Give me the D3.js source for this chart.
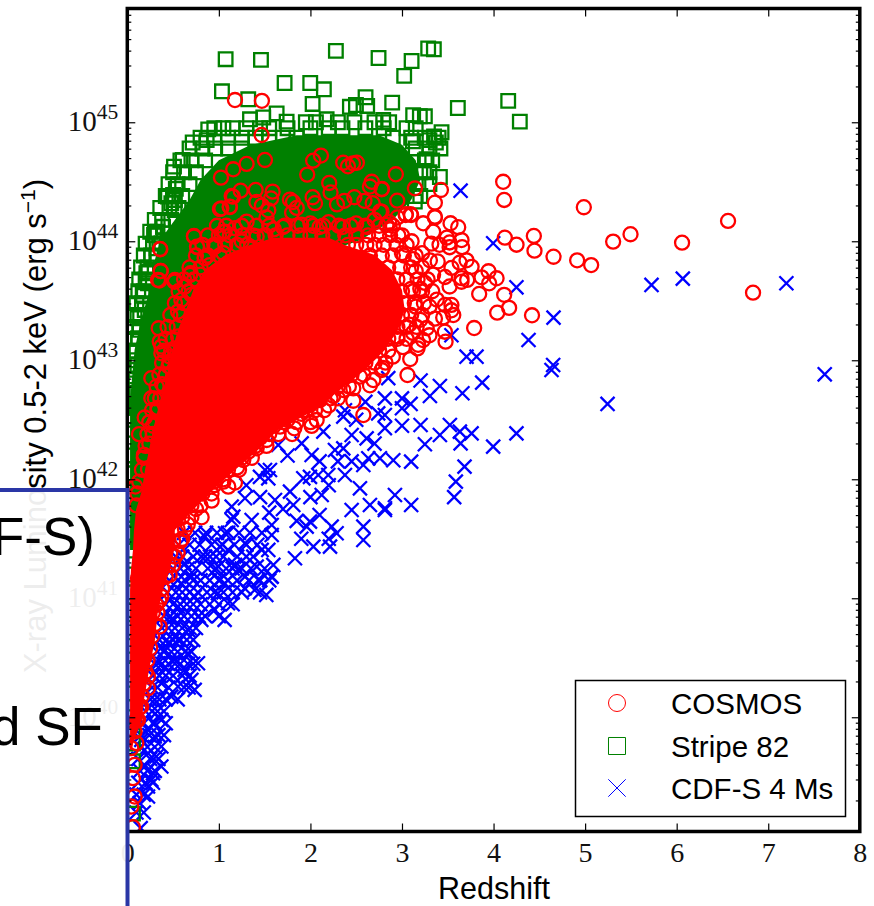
<!DOCTYPE html>
<html>
<head>
<meta charset="utf-8">
<script src="https://cdn.jsdelivr.net/npm/d3@7"></script>
<style>
  html, body { margin: 0; padding: 0; background: #fff; overflow: hidden; }
  svg { display: block; }
  text { font-family: "Liberation Sans", Arial, sans-serif; fill: #000; }
  .tick-label, .tick-label tspan { font-family: "Liberation Serif", serif; fill: #111; }
</style>
</head>
<body>
<div id="chart"></div>
<script>
// all points are [redshift, log10 luminosity]
var xTicks = [0, 1, 2, 3, 4, 5, 6, 7, 8];
var yExponents = [40, 41, 42, 43, 44, 45];
var legendLabels = ["COSMOS", "Stripe 82", "CDF-S 4 Ms"];
var panelLines = ["F-S)", "d SF"];

var cosmos = [
[4.105,44.5],[4.116,44.347],[4.986,44.286],[4.123,44.03],[4.251,43.971],[4.44,44.045],[4.447,43.921],[4.655,43.87],[4.913,43.84],[5.066,43.8],[5.306,43.997],[5.496,44.059],[6.059,43.988],[6.561,44.171],[6.834,43.568],
[4.42,43.378],[3.788,43.271],[4.04,43.4],[4.17,43.44],[4.116,43.55],[3.843,43.557],[3.945,43.748],[4.033,43.689],[3.952,43.647],[3.869,43.697],[3.712,43.675],[3.65,43.66],
[3.425,44.431],[3.141,44.445],[3.359,44.324],[2.948,44.341],[2.933,44.563],[2.777,44.437],[3.043,44.227],[3.094,44.227],[3.359,44.207],[3.232,44.151],[3.53,44.151],[3.614,44.118],
[1.176,45.187],[1.47,45.18],[1.467,44.893],[1.503,44.683],[1.303,44.65],[1.157,44.605],[1.023,44.535],[2.115,44.72],[2.03,44.677],[1.965,44.56],[2.358,44.66],[2.41,44.63],[2.465,44.655],[2.507,44.66],
[.357,43.935],[.365,43.75],[.35,43.67],[.52,43.675],[.685,43.717],[.728,44.04],[.764,43.95],[.957,43.955],[.848,43.86],[1.045,44.078],[1.176,44.11],[1.303,44.165],[1.413,44.04],[1.012,44.27],[1.121,44.288],[1.14,44.38],[1.238,44.425],[1.402,44.431],[1.587,44.417],
[1.57,44.36],[1.41,44.33],[1.47,44.3],[1.54,44.26],[1.52,44.2],[1.776,44.35],[1.81,44.33],[1.85,44.28],[1.8,44.24],[2.024,44.37],[2.05,44.32],[2.205,44.49],[2.22,44.41],[2.29,44.31],[2.37,44.34],[2.48,44.37],[2.59,44.34],[2.68,44.32],[2.67,44.5],[2.65,44.46],[2.78,44.44],[2.76,44.25],[3.04,44.22],[3.1,44.22],
[1.7,44.12],[1.6,44.1],[1.9,44.14],[2.0,44.15],[2.1,44.12],[2.2,44.16],[2.35,44.12],[2.5,44.15],[2.62,44.12],[2.7,44.18],[2.86,44.16],[2.95,44.2],[1.25,44.0],[1.5,44.05],[1.35,43.95],
[2.777,44.249],[2.83,44.137],[2.87,44.1],[2.96,44.05],[3.105,44.0],[3.0,43.9],[3.34,44.08],[3.36,44.2],[3.32,43.98],[3.49,44.03],[3.52,43.99],[3.52,43.95],[3.41,43.97],[3.65,44.01],[3.657,43.95],[3.305,43.84],[3.39,43.83],[3.54,43.776],[3.63,43.82],[3.705,43.84],[3.76,43.785],[3.65,43.69],[3.52,43.62],[3.47,43.7],[3.34,43.72],[3.38,43.51],[3.3,43.45],[3.47,43.465],[3.54,43.42],[3.45,43.36],[3.36,43.35],[3.2,43.34],[3.27,43.27],[3.12,43.23],[3.23,43.17],[3.3,43.21],[3.17,43.1],[3.01,43.11],[2.9,43.03],[3.06,42.876],[2.79,42.935],[3.09,43.01],[3.476,43.156],[3.468,43.24],[3.176,43.13],[3.56,43.38],[3.54,43.465],[3.2,43.6],[3.15,43.75],[3.22,43.9],[3.1,43.6],[3.15,43.45],[3.08,43.3],[2.95,43.2],[3.12,43.85],[3.25,43.65],
[2.578,42.54],[2.468,42.66],[2.65,42.79],[2.468,42.764],[2.359,42.75],[2.068,42.498],[2.013,42.448],[1.824,42.428],[2.104,42.666],[1.995,42.624],[1.668,42.442],[1.522,42.33],[1.413,42.26],[1.176,41.972],[1.103,41.938],[.921,41.82],[.812,41.68],[1.267,42.162],[1.322,42.232],[2.541,42.862],[2.687,42.834],[2.778,42.918],[2.25,42.7],[2.2,42.62],[1.9,42.55],[1.75,42.5],[1.6,42.45],[1.45,42.35],[1.2,42.1],[1.05,42.0],[.95,41.95],[.75,41.75],[.66,41.62],[.6,41.5],[.52,41.35],
[.099,39.782],[.044,39.74],[.08,39.6],[.062,39.488],[.08,39.334],[.044,39.25],[.062,39.076],[.117,39.978],[.226,40.342],[.226,40.244],[.354,40.762],[.372,41.014],[.317,40.944],[.463,41.196],[.117,41.168],[.19,40.51],[.153,40.09],
[.361,43.933],[.364,43.75],[.335,43.675],[.517,43.66],[.692,43.731],[.728,44.045],[.761,43.955],[.961,43.96],[.845,43.857],[1.027,44.277],[1.118,44.291],[1.154,44.375],[1.063,44.081],[.554,43.409],[.343,43.269],[.354,43.157],[.372,43.115],[.372,43.059],[.463,43.031],[.517,43.1],[.262,42.849],[.262,42.681],[.19,42.519],[.128,42.379],[.182,42.205],[.226,42.085],[.088,41.939],[.626,43.619],[.59,43.507],[.554,43.2],[.45,42.95],[.38,42.8],[.33,42.6],[.28,42.45],[.24,42.3],[.7,43.55],[.8,43.72],[.9,43.8],[1.05,43.9]
];
// fringe of the red cloud, listed as [log L, [z, z, ...]]
var cosmosFringe = [
[44.13,[.98,1.08,1.25,1.41,1.55,1.72,1.86,2.03,2.14,2.31,2.44,2.6,2.75,2.9]],
[44.05,[.88,1.0,1.12,1.26,1.37,1.51,1.62,1.75,1.89,2.0,2.13,2.25,2.38,2.5,2.63,2.75,2.87,3.0]],
[43.97,[.82,.95,1.07,1.2,1.31,2.41,2.5,2.61,2.7,2.8,2.94,3.05]],
[43.88,[.75,.88,1.01,2.65,2.78,2.9,3.02,3.15]],
[43.78,[.68,.8,2.85,2.98,3.1,3.22]],
[43.68,[.62,.73,2.95,3.05,3.17,3.28]],
[43.58,[.56,.67,3.0,3.12,3.22,3.33]],
[43.48,[.52,.62,3.02,3.14,3.24]],
[43.38,[.47,.58,3.0,3.1,3.22]],
[43.28,[.44,.54,2.95,3.05,3.16]],
[43.18,[.42,.5,2.85,2.95,3.05]],
[43.08,[.4,.48,2.75,2.85]],
[42.98,[.38,.46,2.6,2.7,2.82]],
[42.88,[.35,.42,2.45,2.58]],
[42.78,[.32,.4,2.3,2.42]],
[42.68,[.3,.36,2.1,2.22,2.3]],
[42.58,[.27,.33,1.95,2.05,2.15]],
[42.48,[.24,.3,1.7,1.85,2.0]],
[42.38,[.22,.28,1.55,1.65,1.8]],
[42.28,[.2,1.4,1.52]],
[42.18,[.18,1.25,1.36]],
[42.08,[.16,1.1,1.22]],
[41.98,[.13,.95,1.05]],
[41.88,[.11,.82,.92]],
[41.78,[.1,.7,.8]],
[41.68,[.6,.7]],
[41.58,[.55,.63]],
[41.48,[.5,.58]],
[41.38,[.47,.55]],
[41.28,[.45,.5]],
[41.18,[.42]],
[41.08,[.38]],
[40.98,[.35]],
[40.88,[.28,.33]],
[40.78,[.3]],
[40.68,[.27]],
[40.58,[.25]],
[40.48,[.22]],
[40.38,[.2]],
[40.28,[.18]],
[40.18,[.16]],
[40.08,[.13]],
[39.98,[.1]],
[39.88,[.08]]
];

var stripe = [
[1.074,45.53],[1.46,45.524],[2.278,45.6],[2.744,45.54],[3.105,45.515],[3.024,45.39],[3.286,45.62],[3.348,45.613],[1.718,45.33],[1.998,45.33],[2.147,45.277],[1.034,45.26],[1.321,45.193],[2.024,45.154],[2.602,45.21],[2.893,45.165],[3.61,45.12],[4.16,45.18],[4.287,45.005],[2.497,45.145],[2.431,45.13],[2.62,45.137],[1.34,45.025],[1.485,45.04],[1.631,45.075],[1.74,45.005],[2.177,45.025],[3.122,45.06],[3.195,45.05],[3.25,45.05],[2.795,45.02],
[.884,44.94],[.867,44.85],[.714,44.83],[.51,44.627],[.605,44.683],[3.432,44.916],[3.35,44.88],[3.3,44.85],[3.37,44.83],[3.12,44.84],[3.268,44.69],[3.24,44.59],[3.414,44.54],[3.14,44.333],[2.92,44.405],[.52,44.347],[.5,44.39],[.53,44.44],[.39,44.12],[.313,44.05],[.23,43.745],[.32,43.94],[.168,43.55],
[.481,44.319],[.39,44.123],[.292,44.053],[.317,43.871],[.208,43.731],[.172,43.541],[.11,43.353],[.117,43.185],[.088,43.073],[.073,42.919],[.062,42.751],[.062,42.611],[.05,42.415],[.444,44.375],[.517,44.263],[.372,43.983],[.262,43.871],[.226,43.647],[.19,43.423],[.135,43.255],[.099,43.0],[.08,42.835],[.062,42.5],[.05,42.2],[.06,42.05],[.05,41.9],[.06,41.7],[.07,41.55],[.05,41.4],[.06,41.2],[.05,41.05],[.05,40.9],[.05,40.75],[.05,40.6],[.06,40.4],[.05,40.2],[.05,40.0],[.062,39.89],[.062,39.78],[.062,39.63],[.062,39.19]
];
var stripeFringe = [
[45.0,[1.95,2.06,2.3,2.48,2.7,2.86]],
[44.95,[.95,1.05,1.15,1.3,1.45,1.55,1.75,2.0,2.2,2.35,2.6,2.8,3.05,3.15]],
[44.87,[.8,.95,1.1,1.25,1.4,1.55,1.7,1.85,2.9,3.1,3.25,3.4]],
[44.78,[.68,.82,.96,1.1,1.25,3.15,3.3,3.42]],
[44.68,[.58,.7,.85,3.25,3.33]],
[44.58,[.5,.62,.75,3.2,3.3]],
[44.48,[.45,.55,.68,3.18,3.3]],
[44.38,[.42,.5,.6,3.15,3.2]],
[44.28,[.36,.46,.56]],
[44.18,[.3,.38,.48]],
[44.08,[.25,.33]],
[43.98,[.2,.28]],
[43.88,[.18,.26]],
[43.78,[.15,.22]],
[43.68,[.13,.2]],
[43.58,[.12,.18]],
[43.48,[.1,.16]],
[43.38,[.08,.14]],
[43.28,[.07,.13]],
[43.18,[.06,.12]],
[43.08,[.05,.1]],
[42.96,[.05,.11]],
[42.84,[.04,.09]],
[42.72,[.05,.1]],
[42.6,[.04,.1]]
];

var cdfs = [
[3.64,44.425],[3.996,43.983],[4.25,43.613],[5.725,43.633],[6.067,43.686],[7.198,43.647],[7.617,42.882],[4.655,43.358],[4.382,43.17],[4.651,42.96],[4.633,42.918],[5.245,42.633],[4.25,42.386],[3.996,42.274],[3.876,42.812],[3.66,42.723],[3.414,42.784],[3.305,42.7],[3.203,42.83],[3.705,43.03],[3.814,43.03],[3.0,42.68],[3.094,42.633],[3.0,42.597],[2.813,42.68],[2.813,42.54],[2.813,42.43],[3.0,42.45],[3.203,42.456],[3.523,42.456],[3.414,42.372],[3.632,42.4],[3.76,42.386],[3.64,42.302],[3.25,42.294],[3.683,42.106],[3.588,41.98],[3.57,41.85],[3.1,42.148],[2.905,42.16],[2.923,41.868],[3.1,41.784],[2.813,41.742],[2.759,42.176],[3.54,43.21],
[2.74,42.554],[2.359,42.526],[2.377,42.58],[2.45,42.372],[2.614,42.344],[2.268,42.246],[2.359,42.26],[2.632,42.176],[2.578,42.12],[2.013,42.204],[1.904,42.302],[1.649,42.288],[2.141,42.4],[1.504,42.078],[1.558,42.078],[1.54,42.008],[1.449,42.02],[1.922,42.008],[1.995,42.02],[2.086,42.036],[2.195,42.036],[2.377,42.036],[2.541,41.924],[2.123,41.868],[2.65,41.784],[2.814,41.756],[2.45,41.742],[1.777,41.896],[1.613,41.826],[1.285,41.84],[1.14,41.77],[1.14,41.658],[1.358,41.658],[1.813,41.784],[1.995,41.644],[1.959,41.602],[2.232,41.602],[2.286,41.546],[2.578,41.602],[2.578,41.49],[2.032,41.434],[2.214,41.434],[1.831,41.336],[1.577,41.616],[1.577,41.532],[1.467,41.406],[1.285,41.462],[1.012,41.434],[.994,41.266],[1.176,41.28],[1.413,41.266],[1.595,41.28],[1.577,41.182],[1.285,41.182],[1.012,41.154],[1.54,41.406],[1.376,41.35],[.903,41.35],[1.067,41.546],[1.158,41.686],[.849,41.518],
[1.518,41.028],[1.39,41.07],[1.43,41.154],[1.573,41.182],[1.282,41.084],[1.209,41.238],[1.1,41.406],[.954,41.238],[1.063,41.126],[.99,41.042],[1.1,40.958],[.954,40.902],[1.063,40.818],[.808,40.818],[.736,41.014],[.7,41.182],[.626,41.294],[.808,41.35],[.59,41.126],[.554,40.93],[.481,40.818],[.663,40.734],[.772,40.454],[.7,40.314],[.736,40.23],[.626,40.398],[.517,40.482],[.408,40.566],[.554,40.65],[.444,40.622],[.336,40.454],[.372,40.286],[.481,40.174],[.299,40.146],[.554,40.258],[.408,40.412],[.663,40.538],
[.372,39.978],[.281,39.95],[.372,39.754],[.299,39.838],[.226,39.698],[.372,39.586],[.281,39.53],[.226,39.418],[.226,39.334],[.153,39.81],[.19,39.586],[.317,39.67],[.226,39.894],[.336,40.006],[.262,39.474],[.135,39.278],[.146,39.068],
[1.3,41.95],[1.45,41.85],[1.55,41.72],[1.7,41.75],[1.85,41.65],[2.1,41.7],[2.2,41.5],[1.9,41.5],[2.0,41.85],[2.2,41.95],[2.3,42.15],[2.1,42.15],[1.75,42.2],[2.45,42.15],[2.7,42.3],[2.5,42.5],[2.6,42.65],[2.85,42.85]
];
var cdfsCluster = [
[41.55,[.62,.74,.86,.98,1.1,1.22,1.34,1.47]],
[41.45,[.56,.68,.79,.92,1.04,1.17,1.3,1.42]],
[41.35,[.53,.6,.72,.85,.97,1.05,1.2,1.3]],
[41.25,[.5,.58,.66,.75,.88,.97,1.08,1.15,1.25,1.35,1.5]],
[41.15,[.46,.55,.63,.72,.8,.9,1.0,1.1,1.2,1.33,1.45,1.55]],
[41.05,[.44,.53,.6,.68,.77,.87,.95,1.05,1.15,1.25,1.45]],
[40.95,[.42,.5,.58,.65,.72,.8,.9,1.0,1.15]],
[40.85,[.4,.47,.55,.62,.7,.78,.85,1.0]],
[40.75,[.38,.45,.52,.6,.68,.75]],
[40.65,[.35,.43,.5,.58,.65,.72]],
[40.55,[.33,.4,.48,.55,.63,.7]],
[40.45,[.3,.38,.45,.52,.58,.66,.72]],
[40.35,[.28,.35,.42,.5,.6,.68]],
[40.25,[.27,.33,.45,.62,.67]],
[40.15,[.25,.35,.42,.55]],
[40.05,[.2,.27,.33,.4]],
[39.95,[.18,.3,.42]],
[39.85,[.15,.24,.34,.4]],
[39.75,[.14,.22,.3]],
[39.65,[.12,.25,.34]],
[39.55,[.14,.22,.3]],
[39.45,[.12,.2,.28]],
[39.35,[.1,.18]],
[39.2,[.1,.18]]
];

// where the symbols pile up into solid colour they can't be told apart,
// so these are [log L, z left, z right] edges of the solid regions
var cosmosCore = [
[44.03,1.6,2.2],[43.969,1.34,2.377],[43.885,1.07,2.704],[43.759,.85,2.89],[43.591,.72,3.0],[43.423,.64,3.03],[43.255,.553,2.955],[43.087,.49,2.813],[42.919,.445,2.595],[42.751,.39,2.322],[42.583,.335,2.05],[42.414,.28,1.645],[42.246,.237,1.427],[42.078,.193,1.176],[41.91,.16,.936],[41.742,.095,.717],[41.574,.073,.52],[41.406,.062,.51],[41.238,.04,.466],[41.07,.03,.39],[40.901,.03,.335],[40.65,.03,.302],[40.398,.03,.237],[40.146,.03,.182],[39.97,.03,.16],[39.81,.03,.073],[39.726,.03,.05]
];
var stripeCore = [
[44.89,1.85,2.75],[44.81,1.35,3.0],[44.68,1.0,3.15],[44.515,.8,3.2],[44.347,.68,3.1],[44.18,.52,2.9],[44.01,.36,2.55],[43.84,.3,1.9],[43.6,.25,1.2],[43.34,.15,.8],[43.09,.08,.575],[42.667,.03,.412],[42.246,.03,.302],[41.826,.03,.193],[41.406,.03,.084]
];

function expandRows(rows) {
    return d3.merge(rows.map(function(r) {
        return r[1].map(function(z) { return [z, r[0]]; });
    }));
}

var width = 874;
var height = 906;
var plot = { left: 127.3, right: 859.8, top: 8.5, bottom: 831.5 };

var svg = d3.select("#chart")
    .append("svg")
    .attr("width", width)
    .attr("height", height);

var xScale = d3.scaleLinear().domain([0, 8]).range([plot.left, plot.right]);
var yScale = d3.scaleLog()
    .domain([Math.pow(10, 39.04), Math.pow(10, 45.956)])
    .range([plot.bottom, plot.top]);

function yPos(logL) { return yScale(Math.pow(10, logL)); }

svg.append("clipPath").attr("id", "plot-clip")
    .append("rect")
    .attr("x", plot.left)
    .attr("y", plot.top)
    .attr("width", plot.right - plot.left)
    .attr("height", plot.bottom - plot.top);

var marks = svg.append("g").attr("clip-path", "url(#plot-clip)");

function drawSymbols(data, type, size, color) {
    marks.append("g").selectAll("path")
        .data(data)
        .enter()
        .append("path")
        .attr("d", d3.symbol().type(type).size(size))
        .attr("transform", function(d) {
            return "translate(" + xScale(d[0]) + "," + yPos(d[1]) + ")";
        })
        .attr("fill", "none")
        .attr("stroke", color)
        .attr("stroke-width", 2.3);
}

function drawCore(data, color) {
    var area = d3.area()
        .y(function(d) { return yPos(d[0]); })
        .x0(function(d) { return xScale(d[1]); })
        .x1(function(d) { return xScale(d[2]); });
    marks.append("path").attr("d", area(data)).attr("fill", color);
}

// same order as the picture: crosses at the bottom, circles on top
drawSymbols(cdfs.concat(expandRows(cdfsCluster)), d3.symbolTimes, 130, "#0000ff");
drawCore(stripeCore, "#008000");
drawSymbols(stripe.concat(expandRows(stripeFringe)), d3.symbolSquare, 185, "#008000");
drawCore(cosmosCore, "#ff0000");
drawSymbols(cosmos.concat(expandRows(cosmosFringe)), d3.symbolCircle, 155, "#ff0000");

// ticks
var yMinor = [];
d3.range(39, 46).forEach(function(e) {
    d3.range(2, 10).forEach(function(m) {
        var v = m * Math.pow(10, e);
        if (v > yScale.domain()[0] && v < yScale.domain()[1]) yMinor.push(v);
    });
});
var yMajor = yExponents.map(function(e) { return Math.pow(10, e); });

function drawAxis(axis, tx, ty) {
    var g = svg.append("g")
        .attr("transform", "translate(" + tx + "," + ty + ")")
        .call(axis.tickFormat(""));
    g.select(".domain").remove();
    g.selectAll("line").attr("stroke", "#000").attr("stroke-width", 1.2);
    return g;
}

var bottomAxis = drawAxis(d3.axisBottom(xScale).tickValues(xTicks).tickSize(-8), 0, plot.bottom);
drawAxis(d3.axisTop(xScale).tickValues(xTicks).tickSize(-8), 0, plot.top);
var leftAxis = drawAxis(d3.axisLeft(yScale).tickValues(yMajor).tickSize(-8), plot.left, 0);
drawAxis(d3.axisRight(yScale).tickValues(yMajor).tickSize(-8), plot.right, 0);
drawAxis(d3.axisLeft(yScale).tickValues(yMinor).tickSize(-4), plot.left, 0);
drawAxis(d3.axisRight(yScale).tickValues(yMinor).tickSize(-4), plot.right, 0);

bottomAxis.selectAll(".tick").append("text")
    .attr("class", "tick-label")
    .attr("y", 30)
    .attr("text-anchor", "middle")
    .attr("font-size", 28)
    .attr("fill", "#111")
    .text(function(d) { return d; });

var yLabels = leftAxis.selectAll(".tick").append("text")
    .attr("class", "tick-label")
    .attr("x", -9)
    .attr("y", 8)
    .attr("text-anchor", "end")
    .attr("font-size", 29)
    .attr("fill", "#111");
yLabels.append("tspan").text("10");
yLabels.append("tspan")
    .attr("dy", -12)
    .attr("font-size", 21.5)
    .text(function(d) { return Math.round(Math.log10(d)); });

// frame
svg.append("rect")
    .attr("x", plot.left)
    .attr("y", plot.top)
    .attr("width", plot.right - plot.left)
    .attr("height", plot.bottom - plot.top)
    .attr("fill", "none")
    .attr("stroke", "#000")
    .attr("stroke-width", 3.5);

// axis titles
svg.append("text")
    .attr("x", 494)
    .attr("y", 899)
    .attr("text-anchor", "middle")
    .attr("font-size", 30.5)
    .text("Redshift");

var yTitle = svg.append("text")
    .attr("transform", "translate(46,426) rotate(-90)")
    .attr("text-anchor", "middle")
    .attr("font-size", 31);
yTitle.append("tspan").text("X-ray Luminosity 0.5-2 keV (erg s");
yTitle.append("tspan").attr("dy", -11).attr("font-size", 21).text("\u22121");
yTitle.append("tspan").attr("dy", 11).text(")");

// legend
var legend = svg.append("g");
legend.append("rect")
    .attr("x", 575.5)
    .attr("y", 680.5)
    .attr("width", 270)
    .attr("height", 136)
    .attr("fill", "#fff")
    .attr("stroke", "#000")
    .attr("stroke-width", 1.5);

var legendTypes = [d3.symbolCircle, d3.symbolSquare, d3.symbolTimes];
var legendSizes = [227, 290, 200];
var legendColors = ["#ff0000", "#008000", "#0000ff"];
var legendRows = [703, 746, 788];

legendLabels.forEach(function(label, i) {
    legend.append("path")
        .attr("d", d3.symbol().type(legendTypes[i]).size(legendSizes[i]))
        .attr("transform", "translate(617," + legendRows[i] + ")")
        .attr("fill", "none")
        .attr("stroke", legendColors[i])
        .attr("stroke-width", 1);
    legend.append("text")
        .attr("x", 671)
        .attr("y", legendRows[i] + 11)
        .attr("font-size", 29.5)
        .text(label);
});

// the slide panel that sits over the left of the figure
var panel = svg.append("g");
panel.append("rect")
    .attr("x", -10)
    .attr("y", 490)
    .attr("width", 137.5)
    .attr("height", 430)
    .attr("fill", "#fff")
    .attr("fill-opacity", 0.93)
    .attr("stroke", "#2a36a6")
    .attr("stroke-width", 4);
panel.append("text")
    .attr("x", 95)
    .attr("y", 555)
    .attr("text-anchor", "end")
    .attr("font-size", 53)
    .text(panelLines[0]);
panel.append("text")
    .attr("x", 103)
    .attr("y", 745)
    .attr("text-anchor", "end")
    .attr("font-size", 53)
    .text(panelLines[1]);
</script>
</body>
</html>
